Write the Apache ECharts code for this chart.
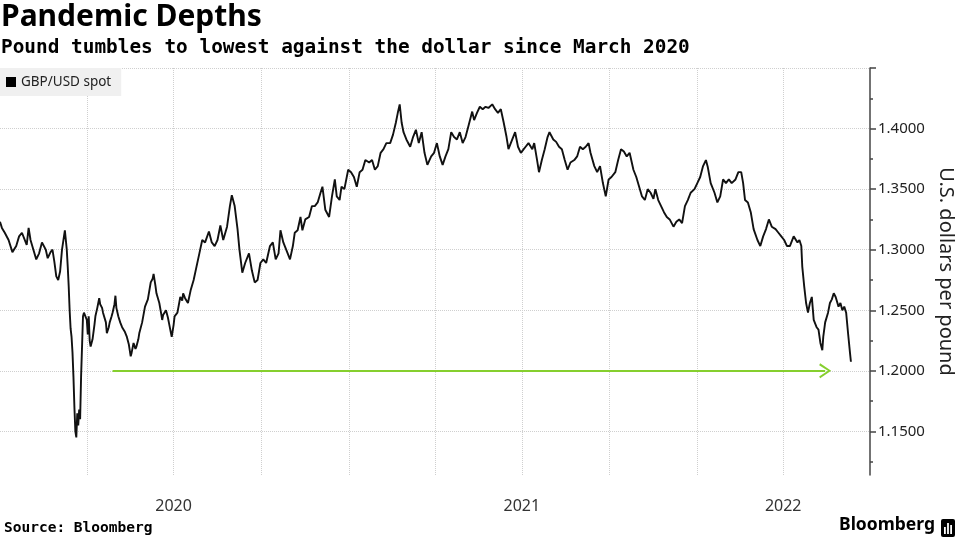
<!DOCTYPE html>
<html>
<head>
<meta charset="utf-8">
<script src="https://cdn.jsdelivr.net/npm/echarts@6/dist/echarts.min.js"></script>
<style>
  html, body { margin: 0; padding: 0; background: #fff; }
  #chart { width: 960px; height: 540px; }
</style>
</head>
<body>
<div id="chart"></div>
<script>
// GBP/USD spot: days after 2020-01-01 and the rate
var startDay = '2020-01-01';
var spotDays = [
    0, 2, 5, 9, 13, 17, 20, 23, 28, 30, 32, 35, 38, 41, 44, 48, 50, 53, 55, 57,
    59, 61, 63, 65, 68, 70, 71, 72, 73, 74, 75, 76, 77, 78, 79, 80, 81, 82, 83, 84,
    85, 86, 87, 88, 91, 92, 93, 94, 95, 97, 99, 100, 102, 104, 105, 107, 108, 111, 112, 114,
    115, 117, 118, 120, 121, 122, 124, 126, 128, 131, 133, 135, 137, 138, 140, 142, 143, 145, 146, 149,
    152, 155, 158, 160, 161, 163, 164, 167, 169, 170, 171, 174, 176, 177, 179, 180, 182, 183, 186, 189,
    191, 192, 194, 197, 200, 203, 206, 209, 212, 215, 219, 222, 225, 228, 231, 234, 238, 241, 243, 244,
    246, 249, 251, 254, 257, 261, 264, 267, 270, 273, 276, 279, 283, 286, 289, 292, 294, 297, 300, 304,
    307, 309, 312, 315, 317, 320, 324, 327, 330, 333, 336, 338, 341, 345, 348, 351, 353, 356, 358, 361,
    365, 368, 371, 374, 377, 380, 383, 387, 390, 393, 396, 399, 402, 405, 409, 412, 415, 417, 419, 421,
    423, 426, 430, 433, 436, 439, 442, 445, 448, 452, 455, 458, 461, 464, 467, 470, 473, 476, 479, 482,
    485, 488, 491, 495, 497, 500, 503, 506, 509, 512, 516, 519, 522, 525, 528, 531, 533, 537, 540, 543,
    546, 549, 551, 554, 558, 560, 563, 565, 568, 571, 574, 576, 580, 583, 586, 589, 592, 595, 598, 602,
    605, 608, 611, 614, 617, 619, 623, 626, 629, 632, 635, 638, 641, 645, 648, 651, 654, 657, 660, 664,
    667, 670, 673, 676, 679, 682, 685, 687, 690, 693, 696, 699, 702, 706, 709, 712, 715, 718, 721, 724,
    728, 731, 734, 737, 740, 742, 745, 749, 752, 755, 758, 761, 764, 767, 771, 774, 777, 779, 781, 784,
    787, 790, 794, 797, 800, 803, 806, 809, 813, 816, 819, 822, 825, 828, 832, 836, 838, 840, 841, 843,
    845, 847, 849, 851, 853, 856, 858, 860, 862, 863, 865, 868, 870, 872, 874, 876, 879, 881, 883, 885,
    887, 889, 891, 892
];
var spotRate = [
    1.323, 1.318, 1.314, 1.308, 1.298, 1.303, 1.311, 1.314, 1.304, 1.318, 1.308, 1.300, 1.292, 1.297, 1.306, 1.300, 1.293, 1.298, 1.300, 1.290,
    1.278, 1.275, 1.282, 1.300, 1.316, 1.300, 1.286, 1.270, 1.250, 1.235, 1.228, 1.215, 1.195, 1.170, 1.150, 1.145, 1.165, 1.155, 1.168, 1.160,
    1.195, 1.220, 1.245, 1.248, 1.242, 1.230, 1.245, 1.225, 1.220, 1.226, 1.238, 1.245, 1.252, 1.260, 1.255, 1.252, 1.248, 1.240, 1.231, 1.236,
    1.240, 1.245, 1.248, 1.255, 1.262, 1.252, 1.245, 1.240, 1.236, 1.232, 1.228, 1.222, 1.212, 1.215, 1.223, 1.218, 1.220, 1.226, 1.231, 1.240,
    1.253, 1.259, 1.273, 1.276, 1.280, 1.270, 1.264, 1.256, 1.247, 1.242, 1.246, 1.250, 1.244, 1.240, 1.232, 1.228, 1.238, 1.245, 1.248, 1.261,
    1.258, 1.264, 1.260, 1.256, 1.267, 1.275, 1.286, 1.297, 1.308, 1.306, 1.315, 1.306, 1.303, 1.308, 1.320, 1.308, 1.319, 1.336, 1.345, 1.342,
    1.336, 1.317, 1.300, 1.281, 1.289, 1.297, 1.283, 1.273, 1.275, 1.289, 1.292, 1.289, 1.303, 1.306, 1.292, 1.297, 1.316, 1.306, 1.300, 1.292,
    1.303, 1.314, 1.316, 1.327, 1.316, 1.325, 1.327, 1.336, 1.336, 1.339, 1.347, 1.352, 1.333, 1.327, 1.344, 1.358, 1.344, 1.341, 1.352, 1.350,
    1.366, 1.364, 1.360, 1.352, 1.364, 1.366, 1.374, 1.372, 1.374, 1.366, 1.369, 1.380, 1.383, 1.388, 1.388, 1.395, 1.405, 1.413, 1.420, 1.405,
    1.397, 1.391, 1.385, 1.393, 1.399, 1.388, 1.397, 1.380, 1.370, 1.377, 1.380, 1.388, 1.377, 1.370, 1.377, 1.383, 1.397, 1.393, 1.391, 1.397,
    1.388, 1.393, 1.402, 1.414, 1.407, 1.413, 1.418, 1.416, 1.418, 1.417, 1.420, 1.416, 1.413, 1.416, 1.405, 1.393, 1.383, 1.391, 1.397, 1.385,
    1.380, 1.383, 1.385, 1.388, 1.383, 1.388, 1.374, 1.364, 1.374, 1.383, 1.393, 1.397, 1.391, 1.389, 1.385, 1.383, 1.374, 1.366, 1.372, 1.374,
    1.377, 1.385, 1.383, 1.385, 1.388, 1.380, 1.369, 1.364, 1.369, 1.355, 1.344, 1.358, 1.360, 1.364, 1.374, 1.383, 1.381, 1.377, 1.380, 1.366,
    1.360, 1.352, 1.344, 1.341, 1.350, 1.347, 1.342, 1.350, 1.341, 1.336, 1.331, 1.327, 1.325, 1.319, 1.323, 1.325, 1.322, 1.336, 1.341, 1.347,
    1.350, 1.355, 1.360, 1.369, 1.374, 1.368, 1.355, 1.347, 1.339, 1.344, 1.358, 1.355, 1.358, 1.355, 1.358, 1.364, 1.364, 1.355, 1.341, 1.339,
    1.331, 1.317, 1.308, 1.303, 1.311, 1.317, 1.325, 1.319, 1.317, 1.314, 1.311, 1.308, 1.303, 1.303, 1.311, 1.306, 1.308, 1.303, 1.286, 1.270,
    1.256, 1.248, 1.256, 1.261, 1.242, 1.236, 1.234, 1.223, 1.217, 1.228, 1.240, 1.248, 1.256, 1.259, 1.264, 1.261, 1.253, 1.256, 1.250, 1.253,
    1.248, 1.231, 1.215, 1.2075
];

// green arrow at the March 2020 level
var arrowFrom = '2020-04-28';
var arrowTo = '2022-05-15';
var arrowLevel = 1.2;

// axis ticks and labels
var quarterTicks = ['2020-04-01', '2020-07-01', '2020-10-01', '2021-01-01', '2021-04-01',
    '2021-07-01', '2021-10-01', '2022-01-01', '2022-04-01'];
var yearLabels = ['2020-07-01', '2021-07-01', '2022-04-01'];
var rateLabels = [1.15, 1.2, 1.25, 1.3, 1.35, 1.4];
var rateTicks = [1.15, 1.2, 1.25, 1.3, 1.35, 1.4, 1.45];
var rateMinorTicks = [1.125, 1.175, 1.225, 1.275, 1.325, 1.375, 1.425];

function ms(s) {
    var p = s.split('-');
    return Date.UTC(+p[0], +p[1] - 1, +p[2]);
}

var DAY = 86400000;
var t0 = ms(startDay);
var spotData = spotDays.map(function (d, i) {
    return [t0 + d * DAY, spotRate[i]];
});

var chart = echarts.init(document.getElementById('chart'));
var axisColor = '#444';
var gridColor = '#cfcfcf';

var option = {
    backgroundColor: '#fff',
    animation: false,
    title: [
        {
            text: 'Pandemic Depths', left: 1, top: 2, padding: 0,
            textStyle: { fontFamily: 'Noto Sans', fontWeight: 'bold', fontSize: 30, color: '#000' }
        },
        {
            text: 'Pound tumbles to lowest against the dollar since March 2020', left: 1, top: 38, padding: 0,
            textStyle: { fontFamily: 'DejaVu Sans Mono', fontWeight: 'bold', fontSize: 19.4, color: '#000' }
        },
        {
            text: 'Source: Bloomberg', left: 4, top: 521, padding: 0,
            textStyle: { fontFamily: 'DejaVu Sans Mono', fontWeight: 'bold', fontSize: 14.5, color: '#000' }
        },
        {
            text: 'Bloomberg', right: 25, top: 516, padding: 0,
            textStyle: { fontFamily: 'Noto Sans', fontWeight: 'bold', fontSize: 17.5, color: '#000' }
        }
    ],
    graphic: [
        {
            type: 'group', right: 5, top: 519,
            children: [
                { type: 'rect', shape: { x: 0, y: 0, width: 14, height: 18, r: 2 }, style: { fill: '#000' } },
                { type: 'rect', shape: { x: 3, y: 8, width: 1.8, height: 7 }, style: { fill: '#fff' } },
                { type: 'rect', shape: { x: 6.1, y: 4, width: 1.8, height: 11 }, style: { fill: '#fff' } },
                { type: 'rect', shape: { x: 9.2, y: 6, width: 1.8, height: 9 }, style: { fill: '#fff' } }
            ]
        }
    ],
    legend: {
        data: ['GBP/USD spot'],
        left: 0, top: 68,
        backgroundColor: '#f0f0f0',
        padding: [7, 10, 7, 6],
        icon: 'rect',
        itemWidth: 10, itemHeight: 10, itemGap: 4,
        textStyle: { fontFamily: 'Noto Sans', fontSize: 13.5, color: '#222' },
        selectedMode: false
    },
    grid: { left: 0, right: 90, top: 68, bottom: 65, outerBoundsMode: 'none', containLabel: false },
    xAxis: {
        // dates as milliseconds on a plain value axis
        type: 'value',
        min: ms('2020-01-01'),
        max: ms('2022-07-01'),
        axisLine: { show: false },
        axisTick: { show: false, customValues: quarterTicks.map(ms) },
        splitLine: { show: true, lineStyle: { color: gridColor, type: 'dotted', width: 1 } },
        axisLabel: {
            customValues: yearLabels.map(ms),
            formatter: function (v) { return String(new Date(v).getUTCFullYear()); },
            margin: 23,
            fontFamily: 'Noto Sans', fontSize: 16, color: '#333'
        }
    },
    yAxis: [
        {
            type: 'value', position: 'right',
            min: 1.114, max: 1.45,
            name: 'U.S. dollars per pound',
            nameLocation: 'middle', nameRotate: -90, nameGap: 66,
            nameTextStyle: { fontFamily: 'Noto Sans', fontSize: 20, color: '#222' },
            axisLine: { show: true, lineStyle: { color: axisColor, width: 1.5 } },
            axisTick: { show: true, customValues: rateTicks, length: 6, lineStyle: { color: axisColor, width: 1.5 } },
            axisLabel: {
                customValues: rateLabels,
                formatter: function (v) { return v.toFixed(4); },
                margin: 8,
                fontFamily: 'Noto Sans', fontSize: 15, color: '#222'
            },
            splitLine: { show: true, lineStyle: { color: gridColor, type: 'dotted', width: 1 } }
        },
        {
            type: 'value', position: 'right',
            min: 1.114, max: 1.45,
            axisLine: { show: false },
            axisTick: { show: true, customValues: rateMinorTicks, length: 3, lineStyle: { color: axisColor, width: 1.5 } },
            axisLabel: { show: false },
            splitLine: { show: false }
        }
    ],
    series: [
        {
            name: 'GBP/USD spot',
            type: 'line',
            data: spotData,
            showSymbol: false,
            symbol: 'none',
            color: '#000',
            lineStyle: { color: '#111', width: 1.9 },
            markLine: {
                silent: true,
                symbol: ['none', 'path://M0,17 L10,0 L20,17 L17.5,18.5 L10,5 L2.5,18.5 Z'],
                symbolSize: [15, 12],
                label: { show: false },
                lineStyle: { color: '#86cf2e', width: 2, type: 'solid' },
                data: [[
                    { coord: [ms(arrowFrom), arrowLevel] },
                    { coord: [ms(arrowTo), arrowLevel] }
                ]]
            }
        }
    ]
};

chart.setOption(option);
</script>
</body>
</html>
